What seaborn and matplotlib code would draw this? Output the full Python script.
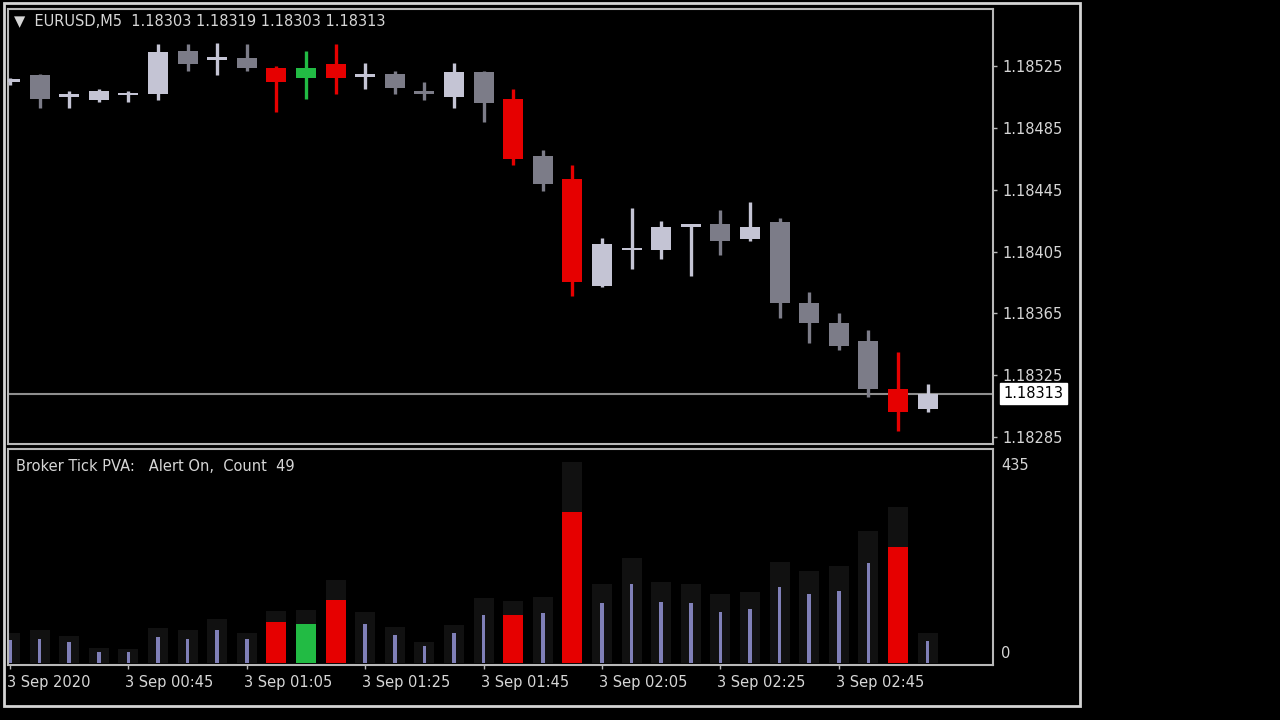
import numpy as np
import pandas as pd
import matplotlib
matplotlib.use("Agg")
import matplotlib.pyplot as plt
import matplotlib.transforms as mtransforms
from matplotlib.patches import Rectangle
import seaborn as sns

# ---------------- data ----------------
symbol = "EURUSD,M5"
header_ohlc = ["1.18303", "1.18319", "1.18303", "1.18313"]
indicator_text = "Broker Tick PVA:   Alert On,  Count  49"

opens = [1.18515, 1.18519, 1.18505, 1.18503, 1.18506, 1.18507, 1.18535, 1.18529,
         1.18530, 1.18524, 1.18517, 1.18526, 1.18518, 1.18520, 1.18508, 1.18505,
         1.18521, 1.18504, 1.18467, 1.18452, 1.18383, 1.18406, 1.18406, 1.18421,
         1.18423, 1.18413, 1.18424, 1.18372, 1.18359, 1.18347, 1.18316, 1.18303]
highs = [1.18517, 1.18520, 1.18509, 1.18510, 1.18509, 1.18539, 1.18539, 1.18540,
         1.18539, 1.18525, 1.18535, 1.18539, 1.18527, 1.18522, 1.18515, 1.18527,
         1.18522, 1.18510, 1.18471, 1.18461, 1.18414, 1.18433, 1.18425, 1.18423,
         1.18432, 1.18437, 1.18427, 1.18379, 1.18365, 1.18354, 1.18340, 1.18319]
lows = [1.18513, 1.18498, 1.18498, 1.18502, 1.18502, 1.18503, 1.18522, 1.18519,
        1.18522, 1.18495, 1.18504, 1.18507, 1.18510, 1.18507, 1.18503, 1.18498,
        1.18489, 1.18461, 1.18444, 1.18376, 1.18382, 1.18394, 1.18400, 1.18389,
        1.18403, 1.18412, 1.18362, 1.18346, 1.18341, 1.18311, 1.18289, 1.18301]
closes = [1.18516, 1.18504, 1.18506, 1.18509, 1.18507, 1.18534, 1.18526, 1.18530,
          1.18524, 1.18515, 1.18524, 1.18517, 1.18519, 1.18511, 1.18507, 1.18521,
          1.18501, 1.18465, 1.18449, 1.18385, 1.18410, 1.18407, 1.18421, 1.18423,
          1.18412, 1.18421, 1.18372, 1.18359, 1.18344, 1.18316, 1.18301, 1.18313]
# PVA signal per bar: n = normal, r = climax bear, g = climax bull
signal = ["n", "n", "n", "n", "n", "n", "n", "n", "n", "r", "g", "r", "n", "n", "n", "n",
          "n", "r", "n", "r", "n", "n", "n", "n", "n", "n", "n", "n", "n", "n", "r", "n"]
tick_volume = [49, 51, 45, 23, 23, 55, 51, 70, 51, 87, 83, 134, 83, 59, 36, 64,
               102, 102, 106, 320, 127, 167, 129, 127, 108, 115, 161, 146, 153, 212, 246, 47]
avg_volume = [64, 70, 57, 32, 30, 74, 70, 93, 64, 110, 112, 176, 108, 76, 45, 81,
              138, 131, 140, 426, 167, 223, 172, 167, 146, 151, 214, 195, 206, 280, 331, 64]

price_ticks = [1.18525, 1.18485, 1.18445, 1.18405, 1.18365, 1.18325, 1.18285]
last_price = 1.18313
vol_max_label = 435
time_tick_pos = [0, 4, 8, 12, 16, 20, 24, 28]
time_tick_labels = ["3 Sep 2020", "3 Sep 00:45", "3 Sep 01:05", "3 Sep 01:25",
                    "3 Sep 01:45", "3 Sep 02:05", "3 Sep 02:25", "3 Sep 02:45"]

# ---------------- style ----------------
sns.set_theme(style="ticks")
plt.rcParams["font.family"] = ["DejaVu Sans"]
TXT = "#d6d6d6"
FRAME = "#b8b8b8"
BULL, BEAR = "#c4c4d4", "#7c7c88"
RED, GREEN = "#e60000", "#22bb44"
VOLC, AVGC = "#8080b8", "#111111"
FS = 10.5

fig = plt.figure(figsize=(12.8, 7.2), dpi=100, facecolor="black")
W, H = 1280, 720


def px_axes(l, t, r, b):
    ax = fig.add_axes([l / W, 1 - b / H, (r - l) / W, (b - t) / H])
    ax.set_facecolor("black")
    for s in ax.spines.values():
        s.set_color(FRAME)
        s.set_linewidth(1.5)
    return ax


ax = px_axes(8, 9, 993, 444)
axv = px_axes(8, 449, 993, 665)

n = len(opens)
idx = np.arange(n)
df = pd.DataFrame({"idx": idx, "open": opens, "high": highs, "low": lows,
                   "close": closes, "signal": signal,
                   "vol": tick_volume, "avg": avg_volume})


def candle_color(r):
    if r.signal == "r":
        return RED
    if r.signal == "g":
        return GREEN
    return BULL if r.close >= r.open else BEAR


df["color"] = [candle_color(r) for r in df.itertuples()]

# ---------------- price panel ----------------
ax.axhline(last_price, color="#8e8e8e", lw=1.5, zorder=1)
ax.vlines(df["idx"], df["low"], df["high"], colors=df["color"], lw=2.4, zorder=2)
body_bottom = np.minimum(df["open"], df["close"])
body_h = np.maximum(np.abs(df["close"] - df["open"]), 1.6e-5)
ax.bar(df["idx"], body_h, bottom=body_bottom, width=0.68, color=df["color"],
       linewidth=0, zorder=3)

xl = (-0.0676, 33.21)
ax.set_xlim(*xl)
ax.set_ylim(1.182805, 1.185619)
ax.set_xticks([])
ax.yaxis.tick_right()
ax.set_yticks(price_ticks)
ax.set_yticklabels([f"{p:.5f}" for p in price_ticks])
ax.tick_params(axis="y", colors=FRAME, labelcolor=TXT, labelsize=FS,
               length=3, width=1, pad=4, direction="out")
ax.set_xlabel("")
ax.set_ylabel("")

trans = mtransforms.blended_transform_factory(ax.transAxes, ax.transData)
ax.text(1.0105, last_price, f"{last_price:.5f}", transform=trans, ha="left",
        va="center", color="black", fontsize=FS, clip_on=False,
        bbox=dict(boxstyle="square,pad=0.22", fc="white", ec="white"))

fig.text(14 / W, 1 - 22 / H, "\u25bc  " + symbol + "  " + " ".join(header_ohlc),
         color=TXT, fontsize=FS, va="center", ha="left")

# ---------------- volume panel ----------------
sns.barplot(data=df, x="idx", y="avg", native_scale=True, width=0.68,
            color=AVGC, saturation=1, errorbar=None, linewidth=0, ax=axv,
            zorder=1)
normal = df[df["signal"] == "n"]
strong = df[df["signal"] != "n"]
axv.bar(normal["idx"], normal["vol"], width=0.12, color=VOLC, linewidth=0, zorder=2)
axv.bar(strong["idx"], strong["vol"], width=0.68, color=strong["color"],
        linewidth=0, zorder=2)

axv.set_xlim(*xl)
axv.set_ylim(-4.25, 454.4)
axv.set_yticks([])
axv.set_xticks(time_tick_pos)
axv.set_xticklabels(time_tick_labels, ha="left")
axv.tick_params(axis="x", colors=FRAME, labelcolor=TXT, labelsize=FS,
                length=3, width=1, pad=4, direction="out")
axv.set_xlabel("")
axv.set_ylabel("")
for lab in axv.get_xticklabels():
    lab.set_transform(lab.get_transform() +
                      mtransforms.ScaledTranslation(-3 / 100, 0, fig.dpi_scale_trans))

vtrans = mtransforms.blended_transform_factory(axv.transAxes, axv.transData)
axv.text(1.008, vol_max_label, str(vol_max_label), transform=vtrans, ha="left",
         va="top", color=TXT, fontsize=FS, clip_on=False)
axv.text(1.008, 4, "0", transform=vtrans, ha="left", va="bottom",
         color=TXT, fontsize=FS, clip_on=False)
axv.text(8 / 985, 0.92, indicator_text, transform=axv.transAxes, ha="left",
         va="center", color=TXT, fontsize=FS)

# outer window frame
fig.add_artist(Rectangle((4 / W, 1 - 706 / H), 1076 / W, 703 / H,
                         transform=fig.transFigure, fill=False,
                         ec="#d4d4d4", lw=2))

fig.savefig("out.png", dpi=100, facecolor="black")
